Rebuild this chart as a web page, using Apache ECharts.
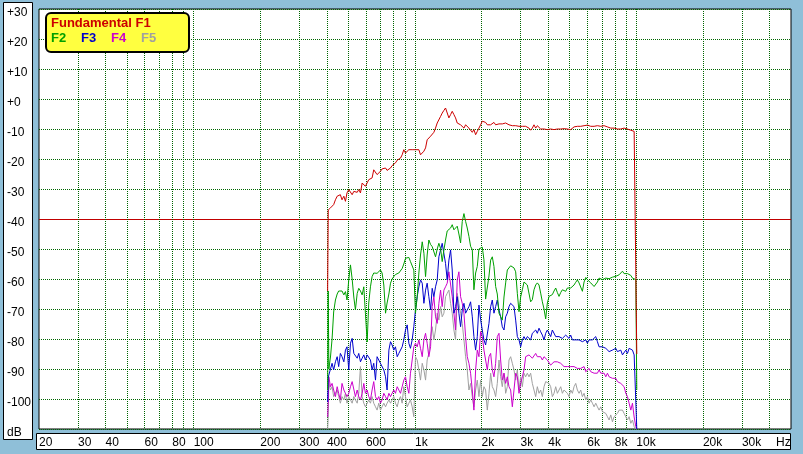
<!DOCTYPE html>
<html><head><meta charset="utf-8">
<script src="https://cdn.jsdelivr.net/npm/echarts@6/dist/echarts.min.js"></script>
<style>html,body{margin:0;padding:0;background:#8fbfd8;} #c{width:803px;height:454px;}</style>
</head><body><div id="c"></div>
<script>
const freqs = [403, 405.5,
 408, 415, 422, 429, 437, 445, 452, 460,
 468, 477, 485, 493, 502, 511, 520, 529, 538, 548,
 557, 567, 577, 587, 597, 608, 618, 629, 640, 651,
 663, 674, 686, 698, 710, 723, 736, 748, 762, 775,
 788, 802, 816, 831, 845, 860, 875, 890, 906, 922,
 938, 954, 971, 988, 1005, 1023, 1041, 1059, 1078, 1097,
 1116, 1135, 1155, 1176, 1196, 1217, 1238, 1260, 1282, 1305,
 1327, 1351, 1374, 1398, 1423, 1448, 1473, 1499, 1525, 1552,
 1579, 1607, 1635, 1664, 1693, 1722, 1753, 1783, 1815, 1846,
 1879, 1912, 1945, 1979, 2014, 2049, 2085, 2122, 2159, 2197,
 2235, 2274, 2314, 2354, 2396, 2438, 2480, 2524, 2568, 2613,
 2659, 2705, 2753, 2801, 2850, 2900, 2951, 3002, 3055, 3109,
 3162, 3218, 3274, 3331, 3390, 3449, 3510, 3571, 3634, 3697,
 3762, 3828, 3895, 3963, 4033, 4103, 4175, 4248, 4323, 4398,
 4475, 4554, 4633, 4715, 4797, 4881, 4967, 5054, 5142, 5232,
 5324, 5417, 5512, 5609, 5707, 5807, 5909, 6012, 6117, 6225,
 6334, 6445, 6557, 6672, 6789, 6908, 7029, 7152, 7278, 7405,
 7535, 7667, 7801, 7938, 8077, 8218, 8362, 8509, 8658, 8809,
 8964, 9121, 9280, 9443, 9608, 9777, 9948,
 10050];

const f1 = [-64, -37,
 -36.9, -36.3, -35.8, -35.2, -33.6, -32.4, -32.2, -31.9,
 -33.6, -32.4, -34.1, -31.3, -30.2, -30.8, -31.9, -30.8, -30.2, -31.1,
 -30.2, -31.3, -28, -27.4, -29.1, -29.7, -26.9, -27.1, -26.3, -23.6,
 -23, -25.2, -25.8, -24.1, -23.3, -23.6, -23, -23.8, -23.6, -23,
 -22.2, -21.9, -21.3, -20.4, -20.2, -19.7, -18.6, -16.9, -18, -17.4,
 -16.9, -17.4, -16.9, -16.3, -16.9, -17.4, -16.9, -18.6, -18, -17.4,
 -16.3, -13.6, -13, -12.4, -12.4, -11.1, -9.7, -8, -7.8, -5.8,
 -4.7, -3.8, -3, -3.6, -6.3, -5.2, -4.1, -5.2, -6.3, -8,
 -7.4, -8.6, -9.1, -9.7, -8.6, -8, -9.7, -10.2, -11.1, -10.2,
 -11.9, -10.8, -9.7, -8.6, -7.4, -7.1, -7.8, -8.6, -8, -8.6,
 -8, -7.8, -8.6, -8, -8.3, -8.6, -8.3, -8, -8, -8.2,
 -8.6, -8.4, -8.9, -8.6, -8.9, -8.3, -9.1, -9.7, -9.1, -8.6,
 -9.1, -9.3, -9.7, -10.4, -9.7, -8.6, -9.7, -8.9, -8.6, -10,
 -10.2, -10, -10, -10.2, -9.9, -10, -10, -10.2, -9.9, -10,
 -9.8, -10, -9.9, -9.9, -10, -10, -10.2, -10.2, -9.6, -9.3,
 -9.1, -9.1, -8.9, -9.1, -8.8, -8.9, -8.7, -8.7, -9.3, -9.1,
 -8.9, -9.1, -8.8, -8.9, -9.3, -9.1, -8.7, -8.9, -9.1, -9.3,
 -9.6, -9.7, -9.3, -9.7, -10, -10, -9.7, -10, -10.2, -9.7,
 -9.9, -10, -10.2, -10.4, -10.8, -10.8, -11.3,
 -85];

const f2 = [-97, -64,
 -90, -86, -80, -71, -67, -65, -64, -63.5,
 -64, -65.3, -64.2, -67, -60.3, -55.3, -60, -66, -70.3, -64.8,
 -63.1, -64, -65.3, -62.6, -71.4, -81, -68, -62.6, -59.2, -58,
 -57.6, -58.1, -57.5, -57, -58, -62, -71.4, -68, -65, -61.4,
 -60, -59.2, -58.5, -58.1, -58, -57.6, -56.5, -55, -53.1, -52.6,
 -52.8, -54.2, -54.8, -57, -71.4, -66, -58, -52, -47.6, -51.4,
 -59.2, -52, -47, -48.5, -49.2, -49.8, -52.6, -50, -48.1, -49.8,
 -54.2, -50.3, -47, -44, -44.1, -43, -41.9, -43.6, -43, -42.4,
 -45, -48, -40.8, -38.2, -40.8, -43, -45.8, -49.1, -50.2, -63.6,
 -58, -55.8, -50, -49.7, -49.4, -53.6, -66.7, -66.9, -59, -53.7,
 -52.6, -55.8, -62.5, -65, -71.4, -72, -73.7, -66, -61.3, -57,
 -56.4, -55.6, -55.3, -56.3, -57.6, -64.8, -70.9, -66, -63.6, -61,
 -61.3, -62, -62.4, -67.6, -66.9, -63.6, -62, -61.3, -62, -64.7,
 -67.6, -70, -73.3, -68, -65.8, -65.5, -65.2, -64, -63, -64.5,
 -65.8, -64.5, -63.6, -64, -64.1, -63, -62.4, -63, -63.6, -62,
 -61.1, -60.3, -61.3, -61.5, -64.1, -61, -59.5, -60.2, -60.8, -61.3,
 -61.9, -62.5, -63, -61, -59.7, -60, -60.2, -59.8, -59.7, -59.2,
 -59.9, -59.7, -59.4, -59.8, -59.1, -58.9, -58.6, -58, -57.4, -58.2,
 -58.6, -58.2, -58, -58.8, -59.7, -59.8, -60.2,
 -97];

const f3 = [-101, -93,
 -92, -92.6, -88.1, -90.3, -87.6, -85.9, -89.2, -84.8,
 -85.9, -87.6, -83.7, -82.6, -90.3, -81.4, -79.8, -84.8, -84.2, -86.4,
 -84.8, -87.6, -86.4, -85.3, -87, -85.3, -85.9, -87, -90.3, -88.1,
 -93.7, -85.9, -85.3, -88.1, -87.6, -90.3, -92.6, -97, -83.7, -80.9,
 -82, -83.7, -82.6, -85.9, -84.8, -84.2, -82.6, -80.3, -77, -75.3,
 -81.4, -83.1, -80.3, -75.9, -70.3, -65.9, -62.6, -60.3, -61.4, -68.1,
 -63.7, -61.4, -65.9, -70.3, -63.1, -65.9, -62.6, -60.3, -52.6, -50.3,
 -48.1, -47.6, -54.8, -60.3, -53.7, -50.3, -57, -71.4, -69.2, -65.9,
 -71.4, -75.9, -70.3, -68.1, -71.4, -70.3, -69.2, -67.6, -72.6, -79.2,
 -83.7, -79.2, -68.7, -73.5, -77, -80.3, -82, -81.4, -74.8, -69.2,
 -67, -71.4, -69.2, -67, -70.3, -72.6, -75.9, -77, -72.6, -71.4,
 -69.2, -68.1, -67.6, -69.2, -73.7, -79.2, -80.3, -82.6, -80.3, -79.2,
 -80.3, -79.2, -78.7, -80.3, -78.1, -78.1, -77, -78.1, -76.4, -77.6,
 -78.7, -80.3, -78.1, -77, -77.6, -79.2, -77, -77, -79.2, -78.7,
 -79.2, -78.7, -79.8, -79.2, -78.7, -79.2, -79.8, -78.7, -80.3, -79.8,
 -80.3, -79.8, -80.3, -80.3, -80.9, -80.3, -80.3, -81.4, -80.3, -80.9,
 -80.3, -79.8, -79.2, -80.9, -82.6, -82.6, -82.6, -82.6, -83.1, -83.1,
 -84.2, -84.2, -83.7, -84.2, -83.1, -84.2, -84.2, -83.7, -85.3, -84.8,
 -83.7, -84.8, -83.1, -82.6, -83.7, -85.3, -84.8,
 -110];

const f4 = [-106, -101,
 -92.6, -95.9, -94.8, -97, -99.2, -95.9, -98.1, -100.3,
 -94.8, -97, -98.1, -99.2, -98.1, -95.9, -94.2, -94.8, -99.2, -97,
 -99.2, -100.3, -98.1, -94.8, -98.1, -97, -99.2, -100.3, -97, -94.2,
 -99.2, -100.3, -99.2, -101.4, -100.3, -98.1, -99.2, -100.3, -98.1, -99.2,
 -98.1, -97, -98.1, -95.9, -97, -98.1, -95.9, -93.7, -92.6, -95.9,
 -98.1, -91.4, -87, -82.6, -81.4, -82.6, -80.3, -83.1, -85.9, -80.3,
 -78.1, -81.4, -85.9, -82.6, -69.2, -65.9, -72.6, -74.8, -68.1, -63.7,
 -69.2, -63.7, -62.6, -61.4, -57.6, -57, -65.9, -71.4, -77, -60.3,
 -57.6, -65.9, -68.1, -71.4, -79.2, -85.9, -88.1, -91.4, -97, -103.7,
 -90.3, -83.7, -85.9, -77.5, -79.2, -83.7, -87, -90.3, -85.9, -84.8,
 -90.3, -92.6, -88.1, -79.2, -78.1, -87, -93.7, -91.4, -94.8, -92.6,
 -95.9, -97, -102.6, -97, -91.4, -92.6, -98.1, -94.8, -92.6, -90.3,
 -85.9, -85.9, -85.3, -84.8, -86.4, -85.9, -84.8, -85.9, -86.4, -85.9,
 -87, -85.9, -86.4, -87, -87.6, -88.7, -88.1, -87.6, -88.1, -87.6,
 -87, -88.1, -88.7, -89.2, -88.7, -89.2, -88.7, -89.2, -88.7, -89.2,
 -89.2, -89.8, -90.3, -89.8, -90.3, -89.2, -90.9, -91.4, -89.8, -90.9,
 -90.3, -91.4, -90.9, -91.4, -90.3, -91.4, -90.9, -91.4, -92.6, -91.4,
 -92.6, -92, -93.1, -92.6, -93.1, -94.2, -93.7, -94.8, -94.8, -95.9,
 -98.1, -99.2, -101.4, -103.7, -101.4, -106, -109.2,
 -110];

const f5 = [-110, -106,
 -94.8, -97, -95.9, -99.2, -98.1, -97, -99.2, -101.4,
 -99.2, -100.3, -98.1, -101.4, -99.2, -100.3, -101.4, -99.2, -100.3, -101.4,
 -98.1, -89.2, -99.2, -101.4, -102.6, -103.1, -100.3, -101.4, -99.2, -101.4,
 -102.6, -103.7, -101.4, -103.7, -102.6, -101.4, -102.6, -101.4, -100.3, -101.4,
 -100.3, -99.2, -101.4, -102.6, -100.3, -99.2, -101.4, -95.9, -99.2, -102.6,
 -101.4, -100.3, -102.6, -105.9, -85.9, -87, -90.3, -93.7, -88.1, -90.3,
 -93.7, -87, -84.8, -79.2, -75.9, -80.3, -77, -71.4, -73.7, -69.2,
 -72.6, -71.4, -65.9, -64.8, -63.7, -68.1, -71.4, -77, -80.3, -64.8,
 -68.1, -71.4, -74.8, -80.3, -85.9, -90.3, -97, -94.8, -99.2, -102.6,
 -97, -93.7, -99.2, -93.7, -99.2, -95.9, -97, -103.7, -98.1, -91.4,
 -95.9, -97, -99.2, -94.8, -87, -92.6, -95.9, -91.4, -98.1, -95.9,
 -87, -85.9, -88.1, -90.3, -93.7, -90.3, -97, -92.6, -95.9, -91.4,
 -92.6, -91.4, -92.6, -91.4, -94.8, -97, -99.2, -95.9, -98.1, -97,
 -99.2, -95.9, -94.2, -93.7, -94.8, -95.9, -99.2, -98.1, -95.9, -98.1,
 -97, -95.9, -98.1, -97, -96.4, -98.1, -99.2, -97, -98.1, -95.9,
 -94.8, -97, -98.1, -97, -99.2, -98.1, -100.3, -99.2, -101.4, -100.3,
 -101.4, -102.6, -101.4, -102.6, -103.7, -102.6, -104.2, -103.7, -104.8, -105.9,
 -107, -105.3, -107.6, -105.9, -106.4, -104.8, -103.7, -104.2, -103.7, -104.8,
 -105.3, -107, -105.9, -108.1, -107, -109.2, -110,
 -110];

const xLabelTicks = [20, 30, 40, 60, 80, 100, 200, 300, 400, 600, 1000, 2000, 3000, 4000, 6000, 8000, 10000, 20000, 30000];
const xGridTicks = [30, 40, 50, 60, 70, 80, 90, 100, 200, 300, 400, 500, 600, 700, 800, 900,
  1000, 2000, 3000, 4000, 5000, 6000, 7000, 8000, 9000, 10000, 20000, 30000, 40000];
const legendNames = ['Fundamental F1', 'F2', 'F3', 'F4', 'F5'];
const colors = { F1: '#cc0000', F2: '#00a000', F3: '#0000cc', F4: '#cc00cc', F5: '#a0a0a0' };

const FONT = "'Liberation Sans', Arial, sans-serif";
const GRID_GREEN = '#006400';
const gridStyle = { color: GRID_GREEN, type: [1, 1], width: 1 };
// y split lines from -110 to +30; the -40 one (8th) is drawn solid red by the second axis
const yGridColors = [GRID_GREEN, GRID_GREEN, GRID_GREEN, GRID_GREEN, GRID_GREEN, GRID_GREEN, GRID_GREEN,
  'rgba(0,0,0,0)', GRID_GREEN, GRID_GREEN, GRID_GREEN, GRID_GREEN, GRID_GREEN, GRID_GREEN, GRID_GREEN];

function pairs(arr) { return freqs.map((f, i) => [f, arr[i]]); }
function mkSeries(name, arr, color) {
  return {
    name: name, type: 'line', data: pairs(arr), showSymbol: false, symbol: 'none',
    lineStyle: { width: 1, color: color }, itemStyle: { color: color },
    silent: true, animation: false, clip: true
  };
}

const chart = echarts.init(document.getElementById('c'), null, { renderer: 'canvas', width: 803, height: 454 });
chart.setOption({
  backgroundColor: '#8fbfd8',
  animation: false,
  textStyle: { fontFamily: FONT },
  grid: { left: 39, top: 9, width: 752, height: 420, show: true, backgroundColor: '#ffffff', borderColor: '#000000', borderWidth: 1, containLabel: false },
  xAxis: {
    type: 'log', logBase: 10, min: 20, max: 50000,
    axisLine: { show: false },
    axisTick: { show: false, customValues: xGridTicks },
    splitLine: { show: true, lineStyle: gridStyle },
    minorTick: { show: false }, minorSplitLine: { show: false },
    axisLabel: {
      customValues: xLabelTicks, align: 'left', margin: 8, color: '#000', fontSize: 12, fontFamily: FONT,
      showMinLabel: true, showMaxLabel: true,
      formatter: function (v) { return v >= 1000 ? (Math.round(v / 1000) + 'k') : String(Math.round(v)); }
    }
  },
  yAxis: [{
    type: 'value', min: -110, max: 30, interval: 10,
    axisLine: { show: false }, axisTick: { show: false },
    splitLine: { show: true, lineStyle: { color: yGridColors, type: [1, 1], width: 1 } },
    axisLabel: {
      align: 'left', margin: 32, color: '#000', fontSize: 12, fontFamily: FONT,
      verticalAlign: 'top', lineHeight: 7,
      formatter: function (v) { if (v === -110) return 'dB'; return v >= 0 ? '+' + v : String(v); }
    }
  }, {
    type: 'value', min: -110, max: 30, interval: 10, position: 'left',
    axisLine: { show: false },
    axisTick: { show: false, customValues: [-40] },
    axisLabel: { show: false },
    splitLine: { show: true, lineStyle: { color: '#c00000', type: 'solid', width: 1 } }
  }],
  graphic: [
    { type: 'rect', z: -10, shape: { x: 3.5, y: 2.5, width: 29, height: 437 }, style: { fill: '#ffffff', stroke: '#000000', lineWidth: 1 } },
    { type: 'rect', z: -10, shape: { x: 36.5, y: 433.5, width: 754, height: 16 }, style: { fill: '#ffffff', stroke: '#000000', lineWidth: 1 } },
    { type: 'text', z: 100, left: 776, top: 437, style: { text: 'Hz', fill: '#000', font: "12px " + FONT } },
    { type: 'rect', z: 100, shape: { x: 46, y: 13, width: 143, height: 39, r: 5 }, style: { fill: '#ffff40', stroke: '#000000', lineWidth: 2 } },
    { type: 'text', z: 101, left: 51, top: 17, style: { text: legendNames[0], fill: colors.F1, font: "bold 13px " + FONT } },
    { type: 'text', z: 101, left: 51, top: 32, style: { text: legendNames[1], fill: colors.F2, font: "bold 13px " + FONT } },
    { type: 'text', z: 101, left: 81, top: 32, style: { text: legendNames[2], fill: colors.F3, font: "bold 13px " + FONT } },
    { type: 'text', z: 101, left: 111, top: 32, style: { text: legendNames[3], fill: colors.F4, font: "bold 13px " + FONT } },
    { type: 'text', z: 101, left: 141, top: 32, style: { text: legendNames[4], fill: colors.F5, font: "bold 13px " + FONT } }
  ],
  series: [
    mkSeries('F5', f5, colors.F5),
    mkSeries('F4', f4, colors.F4),
    mkSeries('F3', f3, colors.F3),
    mkSeries('F2', f2, colors.F2),
    mkSeries('Fundamental F1', f1, colors.F1)
  ]
});
</script></body></html>
